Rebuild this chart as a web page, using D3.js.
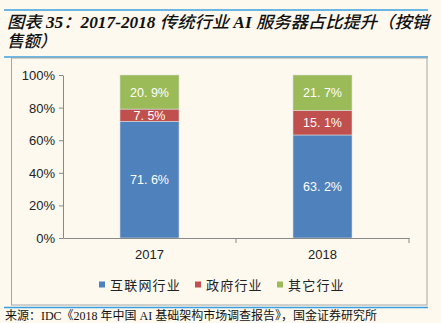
<!DOCTYPE html>
<html><head><meta charset="utf-8">
<script src="https://cdn.jsdelivr.net/npm/d3@7"></script>
<style>html,body{margin:0;padding:0;background:#fdf9ef;}svg{display:block;}</style>
</head><body>
<svg id="c" width="441" height="323"></svg>
<script>
const categories = ["2017", "2018"];
const seriesNames = ["互联网行业", "政府行业", "其它行业"];
const internet = [71.6, 63.2];
const government = [7.5, 15.1];
const others = [20.9, 21.7];
const yTicks = [0, 20, 40, 60, 80, 100];
const colors = ["#4f81bd", "#c0504d", "#9bbb59"];
const titleLine1 = "图表 35：2017-2018 传统行业 AI 服务器占比提升（按销";
const titleLine2 = "售额）";
const sourceText = "来源：IDC《2018 年中国 AI 基础架构市场调查报告》，国金证券研究所";

const svg = d3.select("#c");
svg.append("rect").attr("width",441).attr("height",323).attr("fill","#fdf9ef");

// header lines
const blue = "#3b9fdf";
svg.append("line").attr("x1",4).attr("x2",428).attr("y1",10).attr("y2",10).attr("stroke",blue).attr("stroke-width",1.5);
svg.append("line").attr("x1",4).attr("x2",428).attr("y1",57).attr("y2",57).attr("stroke",blue).attr("stroke-width",1.5);
svg.append("line").attr("x1",4).attr("x2",428).attr("y1",307.5).attr("y2",307.5).attr("stroke",blue).attr("stroke-width",1.5);

const tfont = "'Liberation Serif','Noto Sans CJK SC',serif";
function titleText(str, yPos, fit){
  const t = svg.append("text").attr("x",7).attr("y",yPos).attr("font-family",tfont).attr("font-size",16.5)
    .attr("font-style","italic").attr("fill","#111");
  if (fit) t.attr("textLength",422).attr("lengthAdjust","spacingAndGlyphs");
  // split into Latin/digit runs (bold) and CJK runs (normal)
  const parts = str.match(/[A-Za-z0-9\- ]+|[^A-Za-z0-9\- ]+/g);
  parts.forEach(p=>{
    const latin = /^[A-Za-z0-9\- ]+$/.test(p);
    t.append("tspan").attr("font-weight", latin ? "bold" : "500").text(p);
  });
}
titleText(titleLine1, 28, true);
titleText(titleLine2, 47, false);

// frame
svg.append("rect").attr("x",11.5).attr("y",58).attr("width",415.5).attr("height",247)
  .attr("fill","none").attr("stroke","#a6a6a6").attr("stroke-width",1);

const x = d3.scaleBand().domain(categories).range([63,409]).paddingInner(0).paddingOuter(0);
const y = d3.scaleLinear().domain([0,100]).range([238,75]);

const data = categories.map((c,i)=>({cat:c, internet:internet[i], government:government[i], others:others[i]}));
const keys = ["internet","government","others"];
const stack = d3.stack().keys(keys)(data);

const barW = 59;
const g = svg.append("g");
stack.forEach((s,si)=>{
  g.selectAll(null).data(s).enter().append("rect")
    .attr("x",d=>x(d.data.cat)+x.bandwidth()/2-barW/2)
    .attr("y",d=>y(d[1]))
    .attr("width",barW)
    .attr("height",d=>y(d[0])-y(d[1]))
    .attr("fill",colors[si])
    .attr("stroke","#d9d9d9").attr("stroke-width",0.6);
  g.selectAll(null).data(s).enter().append("text")
    .attr("x",d=>x(d.data.cat)+x.bandwidth()/2)
    .attr("y",d=>(y(d[0])+y(d[1]))/2+4.5)
    .attr("text-anchor","middle")
    .attr("font-family","'Liberation Sans',Arial,sans-serif").attr("font-size",12.5)
    .attr("fill","#fff")
    .text(d=>{const v=(d[1]-d[0]).toFixed(1); return v.replace(".", ". ")+"%";});
});

// y axis
const yAxis = svg.append("g").attr("transform","translate(63,0)")
  .call(d3.axisLeft(y).tickValues(yTicks).tickFormat(d=>d+"%").tickSize(4).tickSizeOuter(0));
yAxis.select(".domain").attr("stroke","#898989");
yAxis.selectAll(".tick line").attr("stroke","#898989");
yAxis.selectAll("text").attr("font-family","'Liberation Sans',Arial,sans-serif").attr("font-size",13).attr("fill","#222").attr("x",-8).attr("dy","0.35em");

// x axis
const xAxis = svg.append("g").attr("transform","translate(0,238)")
  .call(d3.axisBottom(x).tickSize(0).tickSizeOuter(0));
xAxis.select(".domain").attr("stroke","#898989");
xAxis.selectAll("text").attr("font-family","'Liberation Sans',Arial,sans-serif").attr("font-size",13).attr("fill","#222").attr("y",12).attr("dy","0.71em");
// category boundary ticks
const bounds = [x.range()[0]].concat(categories.map(c=>x(c)+x.bandwidth()));
svg.append("g").selectAll("line").data(bounds.slice(1)).enter().append("line")
  .attr("x1",d=>d).attr("x2",d=>d).attr("y1",238).attr("y2",243).attr("stroke","#898989");

// legend
const legX = [99, 195, 277];
const leg = svg.append("g");
seriesNames.forEach((n,i)=>{
  leg.append("rect").attr("x",legX[i]).attr("y",281.5).attr("width",6).attr("height",6).attr("fill",colors[i]);
  leg.append("text").attr("x",legX[i]+11).attr("y",289.5).attr("font-family","'Noto Sans CJK SC',sans-serif")
    .attr("font-size",13).attr("letter-spacing",1.2).attr("fill","#222").text(n);
});

// source
svg.append("text").attr("x",5).attr("y",320).attr("font-family","'Liberation Serif','Noto Sans CJK SC',serif")
  .attr("font-size",12).attr("fill","#111").attr("textLength",372).attr("lengthAdjust","spacingAndGlyphs").text(sourceText);
</script>
</body></html>
